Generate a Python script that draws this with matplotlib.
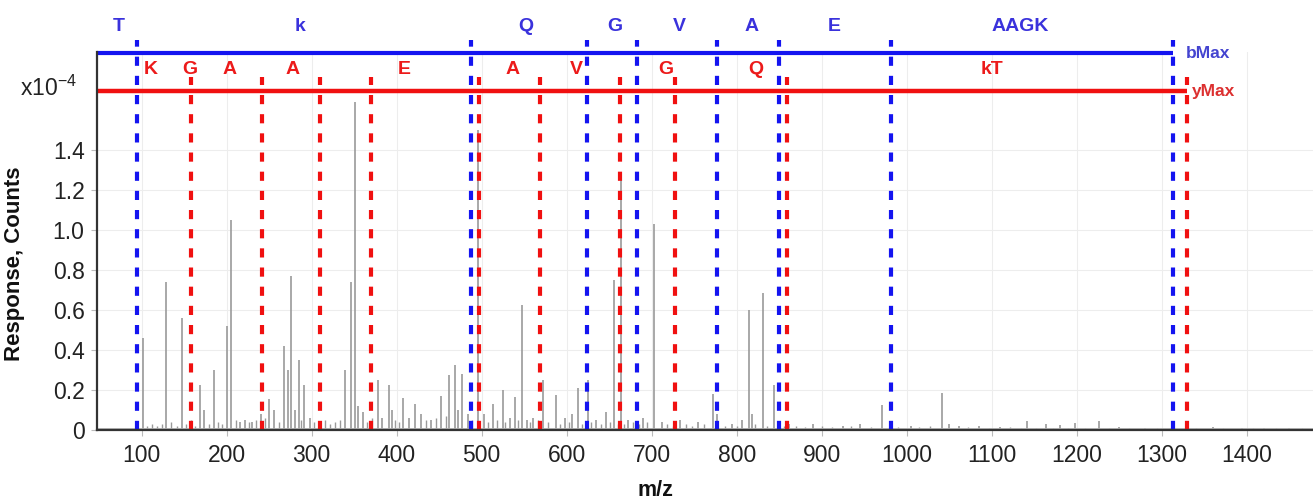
import matplotlib
matplotlib.use("Agg")
import matplotlib.pyplot as plt

plt.rcParams['font.family'] = ['Liberation Sans', 'DejaVu Sans']
plt.rcParams['mathtext.fontset'] = 'custom'
plt.rcParams['mathtext.rm'] = 'Liberation Sans'

# ---- fragment ion ladders (m/z) ----
b_ions = [95, 488, 624, 683, 777, 850, 981, 1313]
y_ions = [158, 241, 310, 370, 497, 569, 663, 728, 859, 1330]

b_labels = ['T', 'k', 'Q', 'G', 'V', 'A', 'E', 'AAGK']
b_label_mz = [73, 286, 552, 657, 732, 818, 915, 1134]
y_labels = ['K', 'G', 'A', 'A', 'E', 'A', 'V', 'G', 'Q', 'kT']
y_label_mz = [111, 157, 203, 277, 409, 536, 611, 717, 823, 1100]

# ---- centroided spectrum (intensity in units of 1e-4 counts) ----
peak_mz = [
    101, 129, 147, 168.6, 173, 185.4, 200.4, 205.1, 216, 222,
    230, 240.5, 250, 256, 268, 272.7, 276.2, 280, 284.8, 291.5,
    298, 338.7, 345.7, 350.4, 355, 360, 378, 383, 390.5, 394.8,
    407.4, 414, 421, 429, 440, 452.6, 461.2, 468.3, 472, 477.3,
    484, 496, 503, 513, 525, 533, 539, 547.6, 553, 560,
    572, 587, 598, 606, 612.8, 625, 635, 646, 655.5, 663.5,
    672, 690, 702.8, 712, 733, 755, 772.5, 777, 795, 806,
    814.5, 818, 830.7, 843.5, 862, 890, 925, 945, 971, 1005,
    1041.9, 1050, 1062, 1085, 1110, 1141, 1164, 1180, 1198, 1226,
    1250, 1280, 1360, 1395, 1420, 1450]
peak_int = [
    0.46, 0.74, 0.56, 0.225, 0.10, 0.30, 0.52, 1.05, 0.04, 0.05,
    0.04, 0.08, 0.155, 0.10, 0.42, 0.30, 0.77, 0.10, 0.35, 0.225,
    0.06, 0.30, 0.74, 1.64, 0.12, 0.09, 0.25, 0.06, 0.225, 0.10,
    0.16, 0.06, 0.13, 0.08, 0.05, 0.17, 0.275, 0.325, 0.10, 0.28,
    0.08, 1.50, 0.08, 0.13, 0.20, 0.06, 0.165, 0.625, 0.05, 0.06,
    0.25, 0.175, 0.06, 0.08, 0.21, 0.25, 0.05, 0.09, 0.75, 1.27,
    0.05, 0.06, 1.03, 0.04, 0.05, 0.04, 0.18, 0.08, 0.03, 0.05,
    0.60, 0.08, 0.685, 0.225, 0.03, 0.03, 0.02, 0.03, 0.125, 0.02,
    0.185, 0.03, 0.02, 0.02, 0.015, 0.045, 0.03, 0.025, 0.035, 0.045,
    0.015, 0.01, 0.015, 0.01, 0.012, 0.01]

noise_mz = [
    106, 112, 118, 124, 135, 141, 152, 158, 163, 179,
    190, 195, 211, 226, 234, 245, 262, 288, 303, 309,
    316, 322, 328, 333, 365, 371, 398, 403, 434, 446,
    458, 489, 508, 518, 528, 543, 557, 566, 578, 592,
    603, 618, 629, 640, 651, 660, 668, 678, 685, 695,
    718, 725, 740, 748, 762, 786, 800, 822, 836, 850,
    856, 870, 880, 900, 912, 935, 958, 990, 1015, 1028,
    1072, 1097, 1122, 1135, 1152, 1172, 1190, 1210, 1238, 1262,
    1295, 1310, 1340, 1372, 1408, 1435, 1465]
noise_int = [
    0.02, 0.03, 0.02, 0.03, 0.04, 0.02, 0.03, 0.05, 0.02, 0.03,
    0.04, 0.03, 0.05, 0.04, 0.05, 0.06, 0.04, 0.05, 0.04, 0.03,
    0.05, 0.03, 0.04, 0.05, 0.04, 0.06, 0.05, 0.04, 0.05, 0.06,
    0.07, 0.05, 0.04, 0.05, 0.04, 0.05, 0.04, 0.05, 0.04, 0.03,
    0.04, 0.03, 0.04, 0.03, 0.04, 0.03, 0.03, 0.04, 0.03, 0.04,
    0.03, 0.02, 0.03, 0.02, 0.03, 0.02, 0.02, 0.03, 0.02, 0.02,
    0.02, 0.02, 0.015, 0.02, 0.015, 0.02, 0.015, 0.015, 0.015, 0.02,
    0.015, 0.01, 0.015, 0.01, 0.012, 0.01, 0.012, 0.01, 0.012, 0.01,
    0.01, 0.01, 0.008, 0.01, 0.008, 0.01, 0.008]

x_ticks = [100, 200, 300, 400, 500, 600, 700, 800, 900, 1000, 1100, 1200, 1300, 1400]
y_ticks = [0, 0.2, 0.4, 0.6, 0.8, 1.0, 1.2, 1.4]
y_tick_labels = ['0', '0.2', '0.4', '0.6', '0.8', '1.0', '1.2', '1.4']

# ---- styling ----
BLUE_LINE = '#1414f0'
BLUE_TEXT = '#3a32dc'
RED_LINE = '#f01010'
RED_TEXT = '#ec1a1a'
PEAK = '#9a9a9a'

X_MIN, X_MAX = 47.5, 1478
Y_TOP = 1.89
B_RAIL = 1.885      # height of the b-ion rail
Y_RAIL = 1.695      # height of the y-ion rail

fig = plt.figure(figsize=(13.13, 4.99), dpi=100)
ax = fig.add_axes([0.0739, 0.1383, 0.9261, 0.7575])
ax.set_xlim(X_MIN, X_MAX)
ax.set_ylim(0, Y_TOP)

ax.grid(True, color='#ededed', lw=0.8, zorder=0)
ax.set_axisbelow(True)

# spectrum sticks
ax.vlines(noise_mz, 0, noise_int, colors=PEAK, lw=1.0, zorder=2)
ax.vlines(peak_mz, 0, peak_int, colors=PEAK, lw=1.2, zorder=2)
ax.plot([X_MIN, X_MAX], [0.004, 0.004], color='#b0b0b0', lw=2.0, zorder=2)

# ion rails
ax.plot([X_MIN, b_ions[-1]], [B_RAIL, B_RAIL], color=BLUE_LINE, lw=3.0,
        solid_capstyle='butt', clip_on=False, zorder=4)
ax.plot([X_MIN, y_ions[-1]], [Y_RAIL, Y_RAIL], color=RED_LINE, lw=3.2,
        solid_capstyle='butt', clip_on=False, zorder=4)

# fragment positions as dashed markers
dash = (0, (2.2, 2.4))
ax.vlines(y_ions, 0, 1.765, colors=RED_LINE, lw=3.0, linestyles=[dash],
          clip_on=False, zorder=5)
ax.vlines(b_ions, 0, 1.95, colors=BLUE_LINE, lw=3.0, linestyles=[dash],
          clip_on=False, zorder=6)

# residue labels
for lab, x in zip(b_labels, b_label_mz):
    ax.text(x, 2.015, lab, color=BLUE_TEXT, fontsize=14, fontweight='bold',
            ha='center', va='center', clip_on=False)
for lab, x in zip(y_labels, y_label_mz):
    ax.text(x, 1.80, lab, color=RED_TEXT, fontsize=14, fontweight='bold',
            ha='center', va='center', clip_on=False)

ax.text(b_ions[-1] + 15, B_RAIL - 0.005, 'bMax', color='#4444d0', fontsize=12.5,
        fontweight='bold', ha='left', va='center', clip_on=False)
ax.text(y_ions[-1] + 5, Y_RAIL - 0.005, 'yMax', color='#dc3030', fontsize=12.5,
        fontweight='bold', ha='left', va='center', clip_on=False)

# axes cosmetics
for side in ('top', 'right'):
    ax.spines[side].set_visible(False)
for side in ('left', 'bottom'):
    ax.spines[side].set_color('#333333')
    ax.spines[side].set_linewidth(1.6)
    ax.spines[side].set_zorder(7)

ax.set_xticks(x_ticks)
ax.set_yticks(y_ticks)
ax.set_yticklabels(y_tick_labels)
ax.tick_params(axis='both', labelsize=16.5, labelcolor='#222222',
               color='#bbbbbb', length=4, width=0.8)
ax.tick_params(axis='x', pad=6)
ax.tick_params(axis='y', pad=5)

ax.set_xlabel('m/z', fontsize=15.5, fontweight='bold', color='#111111',
              va='center')
ax.xaxis.set_label_coords(0.459, -0.159)
ax.set_ylabel('Response, Counts', fontsize=16, fontweight='bold', color='#111111')
ax.yaxis.set_label_coords(-0.0595, 0.44)

fig.text(20 / 1313, 1 - 88 / 499, r'x10$^{-4}$', fontsize=16.5, color='#222222',
         ha='left', va='center')

fig.savefig('out.png', dpi=100, facecolor='white')
